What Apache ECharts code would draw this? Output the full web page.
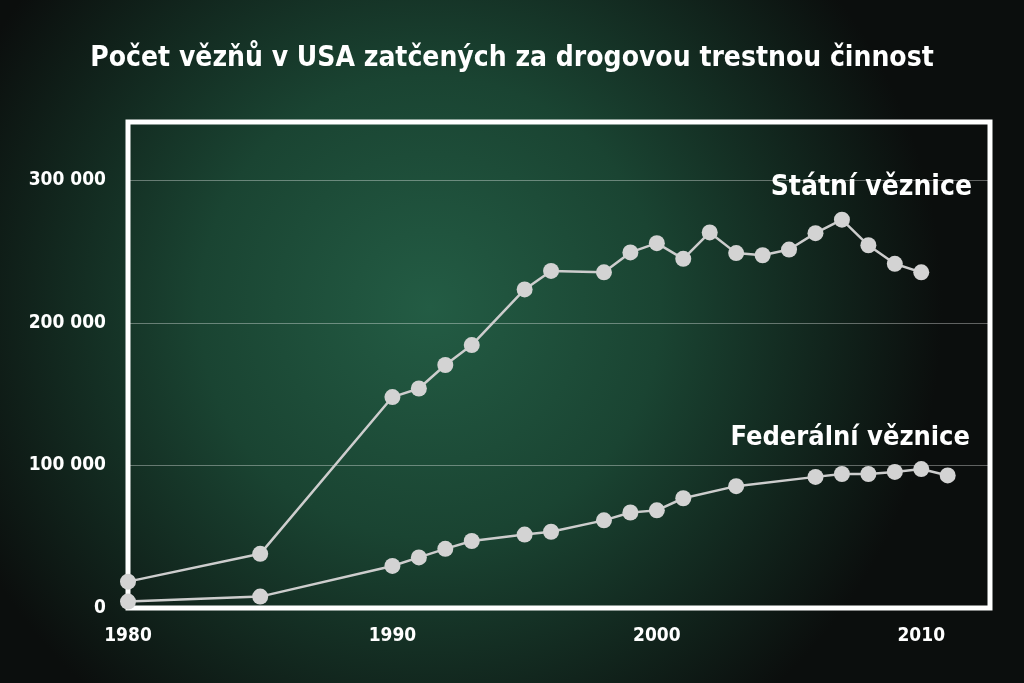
<!DOCTYPE html>
<html lang="cs">
<head>
    <meta charset="UTF-8">
    <title>Počet vězňů v USA</title>
    <script src="https://cdn.jsdelivr.net/npm/echarts@6/dist/echarts.min.js"></script>
    <style>
        html, body { margin: 0; padding: 0; width: 1024px; height: 683px; overflow: hidden; background: #0c100e; }
        #main { width: 1024px; height: 683px; }
    </style>
</head>
<body>
<div id="main"></div>

<script>
    // roky a hodnoty
    var stateYears = [1980, 1985, 1990, 1991, 1992, 1993, 1995, 1996, 1998, 1999, 2000, 2001, 2002, 2003, 2004, 2005, 2006, 2007, 2008, 2009, 2010];
    var stateValues = [18500, 38000, 148000, 154000, 170500, 184500, 223500, 236500, 235500, 249500, 256000, 245000, 263500, 249000, 247500, 251500, 263000, 272500, 254500, 241500, 235500];

    var fedYears = [1980, 1985, 1990, 1991, 1992, 1993, 1995, 1996, 1998, 1999, 2000, 2001, 2003, 2006, 2007, 2008, 2009, 2010, 2011];
    var fedValues = [4500, 8000, 29500, 35500, 41500, 47000, 51500, 53500, 61500, 67000, 68500, 77000, 85500, 92000, 94000, 94000, 95500, 97500, 93000];

    var yearTicks = [1980, 1990, 2000, 2010];
    var valueTicks = [0, 100000, 200000, 300000];

    var titleText = 'Počet vězňů v USA zatčených za drogovou trestnou činnost';
    var stateName = 'Státní věznice';
    var fedName = 'Federální věznice';

    function pairs(xs, ys) {
        var out = [];
        for (var i = 0; i < xs.length; i++) {
            out.push([xs[i], ys[i]]);
        }
        return out;
    }

    var font = '"Liberation Sans Narrow", "DejaVu Sans Condensed", sans-serif';
    var lineColor = '#cdcdcd';

    var myChart = echarts.init(document.getElementById('main'));

    var option = {
        backgroundColor: {
            type: 'radial',
            x: 0.42, y: 0.45, r: 0.75,
            colorStops: [
                { offset: 0, color: '#235c44' },
                { offset: 0.45, color: '#1a4432' },
                { offset: 1, color: '#0b0e0d' }
            ]
        },
        title: [
            {
                text: titleText,
                left: 'center',
                top: 40,
                textStyle: { color: '#ffffff', fontFamily: font, fontWeight: 'bold', fontSize: 28 }
            },
            {
                text: stateName,
                right: 47,
                top: 169,
                textStyle: { color: '#ffffff', fontFamily: font, fontWeight: 'bold', fontSize: 28 }
            },
            {
                text: fedName,
                right: 49,
                top: 419,
                textStyle: { color: '#ffffff', fontFamily: font, fontWeight: 'bold', fontSize: 27 }
            }
        ],
        grid: {
            show: true,
            left: 128,
            right: 34,
            top: 122,
            bottom: 75,
            borderColor: '#ffffff',
            borderWidth: 5,
            backgroundColor: 'transparent'
        },
        xAxis: {
            type: 'value',
            min: 1980,
            max: 2012.6,
            axisLine: { show: false },
            axisTick: { show: false },
            splitLine: { show: false },
            axisLabel: {
                customValues: yearTicks,
                margin: 19,
                color: '#ffffff',
                fontFamily: font,
                fontWeight: 'bold',
                fontSize: 19,
                formatter: function (v) { return String(v); }
            }
        },
        yAxis: {
            type: 'value',
            min: 0,
            max: 341000,
            axisLine: { show: false },
            axisTick: { show: false, customValues: valueTicks },
            splitLine: { show: true, lineStyle: { color: 'rgba(255,255,255,0.35)', width: 1 } },
            axisLabel: {
                customValues: valueTicks,
                margin: 22,
                color: '#ffffff',
                fontFamily: font,
                fontWeight: 'bold',
                fontSize: 19,
                formatter: function (v) {
                    return String(v).replace(/\B(?=(\d{3})+(?!\d))/g, ' ');
                }
            }
        },
        series: [
            {
                name: stateName,
                type: 'line',
                data: pairs(stateYears, stateValues),
                symbol: 'circle',
                symbolSize: 16,
                lineStyle: { color: lineColor, width: 2.5 },
                itemStyle: { color: '#d3d3d3' },
                z: 3
            },
            {
                name: fedName,
                type: 'line',
                data: pairs(fedYears, fedValues),
                symbol: 'circle',
                symbolSize: 16,
                lineStyle: { color: lineColor, width: 2.5 },
                itemStyle: { color: '#d3d3d3' },
                z: 3
            }
        ],
        animation: false
    };

    myChart.setOption(option);
</script>

</body>
</html>
